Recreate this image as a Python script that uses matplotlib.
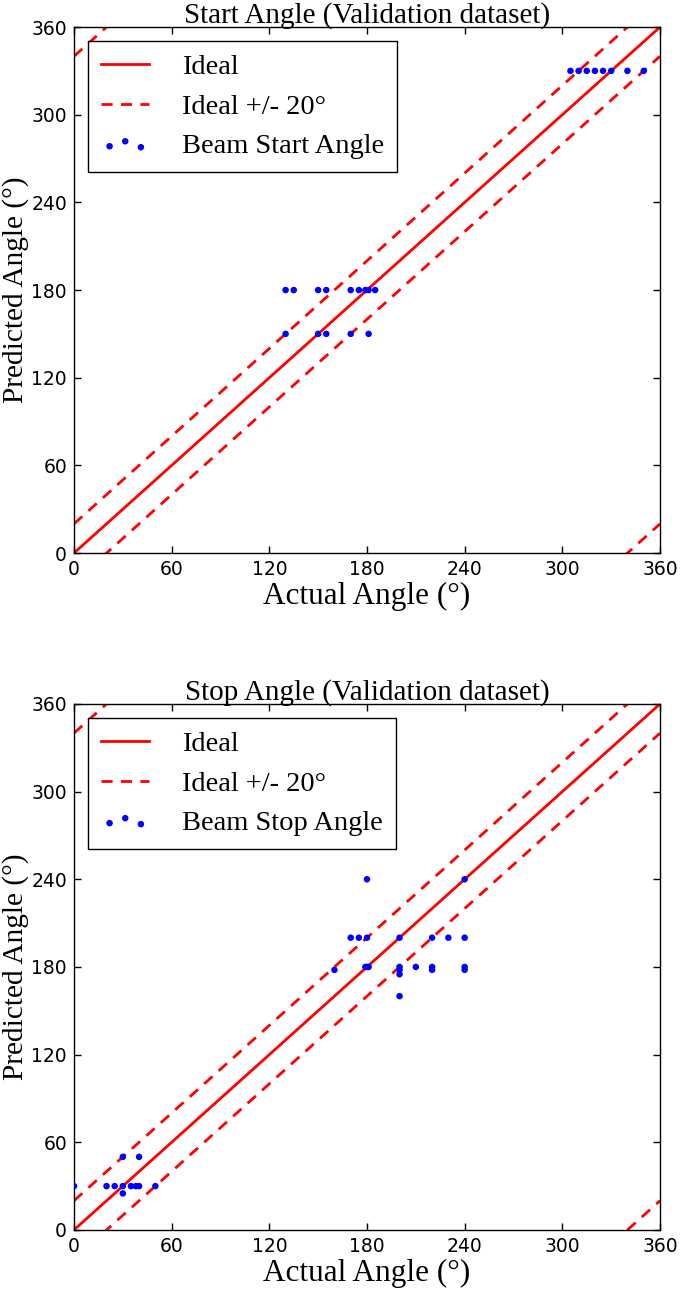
import matplotlib
matplotlib.use("Agg")
import matplotlib.pyplot as plt
import numpy as np

# ---- data ----
start_actual = [305, 310, 315, 320, 325, 330, 340, 350,
                130, 135, 150, 155, 170, 175, 179, 181, 185,
                130, 150, 155, 170, 181]
start_pred = [330, 330, 330, 330, 330, 330, 330, 330,
              180, 180, 180, 180, 180, 180, 180, 180, 180,
              150, 150, 150, 150, 150]

stop_actual = [0, 20, 25, 30, 35, 38, 40, 50, 30, 40, 30,
               180, 240,
               170, 175, 180, 200, 220, 230, 240,
               160, 179, 180, 181, 200, 200, 200, 210, 220, 220, 240, 240,
               200]
stop_pred = [30, 30, 30, 30, 30, 30, 30, 30, 50, 50, 25,
             240, 240,
             200, 200, 200, 200, 200, 200, 200,
             178, 180, 180, 180, 180, 178, 175, 180, 180, 178, 180, 178,
             160]

ticks = [0, 60, 120, 180, 240, 300, 360]
ideal_x = [0, 360]
band_offsets = [20, -20, 340, -340]

serif = ['Liberation Serif', 'DejaVu Serif']

fig = plt.figure(figsize=(6.85, 12.94), dpi=100)
ax1 = fig.add_axes([0.108, 0.5726, 0.8555, 0.4065])
ax2 = fig.add_axes([0.108, 0.0495, 0.8555, 0.4065])

def draw(ax, xa, yp, title, label):
    ax.plot(ideal_x, ideal_x, color='r', lw=2, label='Ideal')
    for i, off in enumerate(band_offsets):
        ax.plot(ideal_x, [v + off for v in ideal_x], color='r', lw=2,
                linestyle=(0, (4, 3)),
                label='Ideal +/- 20°' if i == 0 else None)
    ax.scatter(xa, yp, s=22, color='b', edgecolors='none', label=label, zorder=3)
    ax.set_xlim(0, 360)
    ax.set_ylim(0, 360)
    ax.set_xticks(ticks)
    ax.set_yticks(ticks)
    ax.tick_params(direction='in', top=True, right=True, length=5,
                   labelsize=13.5, width=1, pad=5)
    for sp in ax.spines.values():
        sp.set_color('black')
        sp.set_linewidth(1)
    ax.set_title(title, family=serif, fontsize=21, pad=3)
    ax.set_xlabel('Actual Angle (°)', family=serif, fontsize=22.5, labelpad=2)
    ax.set_ylabel('Predicted Angle (°)', family=serif, fontsize=21.2, labelpad=2)
    leg = ax.legend(loc='upper left', prop={'family': serif, 'size': 20.5},
                    fancybox=False, edgecolor='black', framealpha=1,
                    scatterpoints=3, scatteryoffsets=[0.35, 0.6, 0.3],
                    handlelength=1.7, handletextpad=1.15, borderpad=0.45,
                    labelspacing=0.48, borderaxespad=0.5)
    leg.get_frame().set_linewidth(1)

draw(ax1, start_actual, start_pred, 'Start Angle (Validation dataset)', 'Beam Start Angle')
draw(ax2, stop_actual, stop_pred, 'Stop Angle (Validation dataset)', 'Beam Stop Angle')

fig.savefig('out.png', dpi=100)
